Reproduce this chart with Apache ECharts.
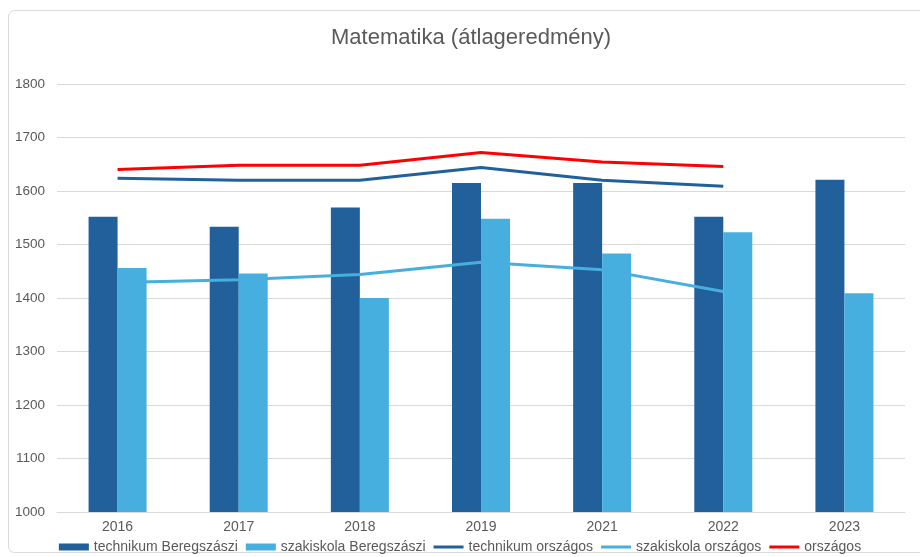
<!DOCTYPE html>
<html>
<head>
<meta charset="utf-8">
<script src="https://cdn.jsdelivr.net/npm/echarts@6/dist/echarts.min.js"></script>
<style>
  html, body { margin: 0; padding: 0; background: #fff; }
  #main { width: 920px; height: 557px; }
</style>
</head>
<body>
<div id="main"></div>
<script>
// kategóriák és értékek
var years = ['2016', '2017', '2018', '2019', '2021', '2022', '2023'];
var technikumBereg = [1552, 1533, 1569, 1615, 1615, 1552, 1621];
var szakiskolaBereg = [1456, 1446, 1400, 1548, 1483, 1523, 1409];
var technikumOrszagos = [1624, 1620, 1620, 1644, 1620, 1609, null];
var szakiskolaOrszagos = [1429, 1434, 1444, 1467, 1453, 1412, null];
var orszagos = [1640, 1648, 1648, 1672, 1654, 1646, null];

var darkBlue = '#21609B';
var lightBlue = '#47AFE0';
var red = '#FF0000';
var textColor = '#595959';
var lineIcon = 'path://M0,0 L30,0 L30,3 L0,3 Z';

var chart = echarts.init(document.getElementById('main'));
var option = {
    animation: false,
    textStyle: { fontFamily: 'Liberation Sans, Arial, sans-serif' },
    graphic: [{
        type: 'rect',
        shape: { x: 8.5, y: 10.5, width: 930, height: 542, r: 6 },
        style: { fill: 'none', stroke: '#d9d9d9', lineWidth: 1 },
        silent: true,
        z: -10
    }],
    title: {
        text: 'Matematika (átlageredmény)',
        left: 326,
        top: 22,
        textStyle: { color: textColor, fontSize: 22, fontWeight: 'normal' }
    },
    legend: {
        bottom: 3,
        left: 'center',
        padding: [0, 5, 0, 5],
        itemGap: 8,
        itemWidth: 30,
        itemHeight: 7,
        textStyle: { color: textColor, fontSize: 14 },
        data: [
            { name: 'technikum Beregszászi', icon: 'rect' },
            { name: 'szakiskola Beregszászi', icon: 'rect' },
            { name: 'technikum országos', icon: lineIcon },
            { name: 'szakiskola országos', icon: lineIcon },
            { name: 'országos', icon: lineIcon }
        ]
    },
    grid: { left: 57, right: 15, top: 84, bottom: 45 },
    xAxis: {
        type: 'category',
        data: years,
        axisLine: { lineStyle: { color: '#d9d9d9' } },
        axisTick: { show: false },
        axisLabel: { color: textColor, fontSize: 14, margin: 8 }
    },
    yAxis: {
        type: 'value',
        min: 1000,
        max: 1800,
        interval: 100,
        axisLine: { show: false },
        axisTick: { show: false },
        splitLine: { lineStyle: { color: '#d9d9d9' } },
        axisLabel: {
            color: textColor,
            fontSize: 13.5,
            margin: 12,
            formatter: function (v) { return String(v); }
        }
    },
    series: [
        {
            name: 'technikum Beregszászi',
            type: 'bar',
            data: technikumBereg,
            barWidth: 29,
            barGap: '0%',
            itemStyle: { color: darkBlue }
        },
        {
            name: 'szakiskola Beregszászi',
            type: 'bar',
            data: szakiskolaBereg,
            barWidth: 29,
            itemStyle: { color: lightBlue }
        },
        {
            name: 'technikum országos',
            type: 'line',
            data: technikumOrszagos,
            symbol: 'none',
            lineStyle: { color: darkBlue, width: 3 },
            itemStyle: { color: darkBlue }
        },
        {
            name: 'szakiskola országos',
            type: 'line',
            data: szakiskolaOrszagos,
            symbol: 'none',
            lineStyle: { color: lightBlue, width: 3 },
            itemStyle: { color: lightBlue }
        },
        {
            name: 'országos',
            type: 'line',
            data: orszagos,
            symbol: 'none',
            lineStyle: { color: red, width: 3 },
            itemStyle: { color: red }
        }
    ]
};
chart.setOption(option);
</script>
</body>
</html>
